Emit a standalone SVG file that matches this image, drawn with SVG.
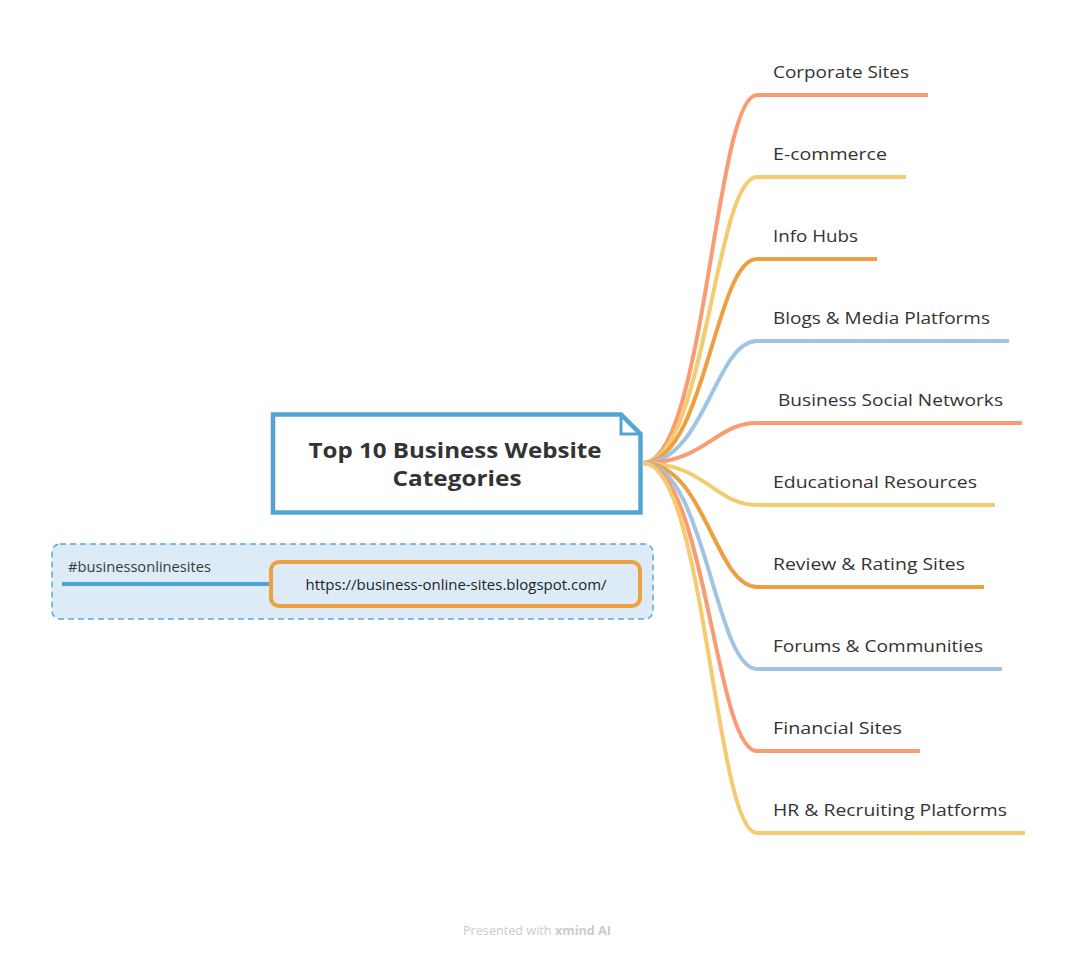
<svg xmlns="http://www.w3.org/2000/svg" width="1075" height="956" viewBox="0 0 1075 956">
<style>
.br{fill:none;stroke-width:4;stroke-linecap:butt}
.c1{stroke:#F99B73}
.c2{stroke:#F4CB6E}
.c3{stroke:#EE9F3F}
.c4{stroke:#9FC4E6}
.lbl{font-family:"Open Sans","Liberation Sans",sans-serif;font-size:17px;font-weight:500;fill:#333333}
.title{font-family:"Open Sans","Liberation Sans",sans-serif;font-size:22px;font-weight:700;fill:#333333}
</style>
<rect width="1075" height="956" fill="#ffffff"/>
<g id="summary">
<rect x="52" y="544" width="601" height="75" rx="8" fill="#DDEBF7" stroke="#5AA8DE" stroke-width="1.5" stroke-dasharray="6 4"/>
<text x="68" y="572" font-family="Open Sans, Liberation Sans, sans-serif" font-size="14" fill="#3a3a3a" textLength="143" lengthAdjust="spacingAndGlyphs">#businessonlinesites</text>
</g>
<g id="connectors">
<path class="br c1" d="M643,463 C705,463 715,95 757,95 H928"/>
<path class="br c2" d="M643,463 C705,463 715,177 757,177 H906"/>
<path class="br c3" d="M643,463 C705,463 715,259 757,259 H877"/>
<path class="br c4" d="M643,463 C705,463 715,341 757,341 H1009"/>
<path class="br c1" d="M643,463 C705,463 715,423 757,423 H1022"/>
<path class="br c2" d="M643,463 C705,463 715,505 757,505 H995"/>
<path class="br c3" d="M643,463 C705,463 715,587 757,587 H984"/>
<path class="br c4" d="M643,463 C705,463 715,669 757,669 H1002"/>
<path class="br c1" d="M643,463 C705,463 715,751 757,751 H920"/>
<path class="br c2" d="M643,463 C705,463 715,833 757,833 H1025"/>
<line x1="62" y1="584" x2="271" y2="584" stroke="#52A2D2" stroke-width="4"/>
</g>
<g id="central">
<path d="M273,414.5 H621 L640.5,434 V512.5 H273 Z" fill="#ffffff" stroke="#55A3D2" stroke-width="4.5" stroke-linejoin="miter"/>
<path d="M621,414.5 V434 H640.5" fill="none" stroke="#55A3D2" stroke-width="3"/>
<text class="title" x="455" y="458" text-anchor="middle" textLength="293" lengthAdjust="spacingAndGlyphs">Top 10 Business Website</text>
<text class="title" x="457" y="486" text-anchor="middle" textLength="129" lengthAdjust="spacingAndGlyphs">Categories</text>
</g>
<g id="n1"><text class="lbl" x="773" y="78" textLength="136" lengthAdjust="spacingAndGlyphs">Corporate Sites</text></g>
<g id="n2"><text class="lbl" x="773" y="160" textLength="114" lengthAdjust="spacingAndGlyphs">E-commerce</text></g>
<g id="n3"><text class="lbl" x="773" y="242" textLength="85" lengthAdjust="spacingAndGlyphs">Info Hubs</text></g>
<g id="n4"><text class="lbl" x="773" y="324" textLength="217" lengthAdjust="spacingAndGlyphs">Blogs &amp; Media Platforms</text></g>
<g id="n5"><text class="lbl" x="778" y="406" textLength="225" lengthAdjust="spacingAndGlyphs">Business Social Networks</text></g>
<g id="n6"><text class="lbl" x="773" y="488" textLength="204" lengthAdjust="spacingAndGlyphs">Educational Resources</text></g>
<g id="n7"><text class="lbl" x="773" y="570" textLength="192" lengthAdjust="spacingAndGlyphs">Review &amp; Rating Sites</text></g>
<g id="n8"><text class="lbl" x="773" y="652" textLength="210" lengthAdjust="spacingAndGlyphs">Forums &amp; Communities</text></g>
<g id="n9"><text class="lbl" x="773" y="734" textLength="129" lengthAdjust="spacingAndGlyphs">Financial Sites</text></g>
<g id="n10"><text class="lbl" x="773" y="816" textLength="234" lengthAdjust="spacingAndGlyphs">HR &amp; Recruiting Platforms</text></g>
<g id="url">
<rect x="271" y="562" width="369" height="44" rx="8" fill="#DDEBF7" stroke="#EE9F3F" stroke-width="4"/>
<text x="456" y="590" text-anchor="middle" font-family="Open Sans, Liberation Sans, sans-serif" font-size="14" font-weight="500" fill="#222222" textLength="301" lengthAdjust="spacingAndGlyphs">https://business-online-sites.blogspot.com/</text>
</g>
<g id="footer">
<text x="537" y="935" text-anchor="middle" font-family="Open Sans, Liberation Sans, sans-serif" font-size="12.5" fill="#cccccc" textLength="148" lengthAdjust="spacingAndGlyphs">Presented with <tspan font-weight="700">xmind AI</tspan></text>
</g>
</svg>
